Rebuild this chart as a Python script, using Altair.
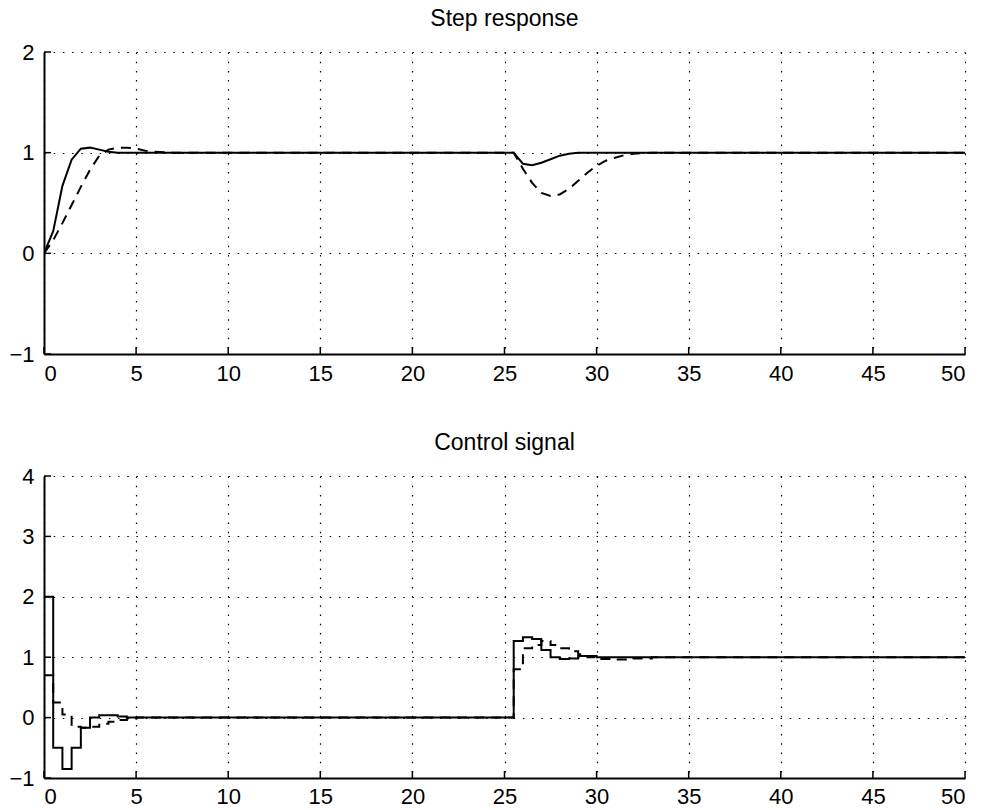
import altair as alt
import pandas as pd

# ---------------- data ----------------
# Step response (output), sampled points
t_y = [0, 0.5, 1, 1.5, 2, 2.5, 3, 3.5, 4, 4.5, 5, 5.5, 6, 7, 10, 20, 25, 25.5, 26, 26.5, 27, 27.5,
       28, 28.5, 29, 29.5, 30, 30.5, 31, 31.5, 32, 33, 35, 40, 50]
y_solid = [0, 0.22, 0.67, 0.93, 1.04, 1.05, 1.03, 1.01, 1.0, 1.0, 1.0, 1.0, 1.0, 1.0, 1.0, 1.0, 1.0, 1.0,
           0.89, 0.875, 0.9, 0.935, 0.97, 0.99, 1.0, 1.0, 1.0, 1.0, 1.0, 1.0, 1.0, 1.0, 1.0, 1.0, 1.0]
y_dashed = [0, 0.13, 0.3, 0.48, 0.66, 0.83, 0.97, 1.03, 1.05, 1.05, 1.04, 1.02, 1.01, 1.0, 1.0, 1.0, 1.0,
            1.0, 0.84, 0.7, 0.6, 0.57, 0.585, 0.64, 0.72, 0.8, 0.87, 0.92, 0.95, 0.975, 0.99, 1.0, 1.0, 1.0, 1.0]

# Control signal (piecewise constant, value holds from t until next t)
t_u_solid = [0, 0.5, 1, 1.5, 2, 2.5, 3, 4, 4.5, 25.5, 26, 26.5, 27, 27.5, 28, 28.5, 29, 30, 50]
u_solid = [2, -0.5, -0.85, -0.5, -0.17, 0.0, 0.04, 0.02, 0.0, 1.27, 1.33, 1.3, 1.12, 1.0, 0.97, 0.98,
           1.02, 1.0, 1.0]
t_u_dashed = [0, 0.5, 1, 1.5, 2, 2.5, 3, 3.5, 4, 4.5, 5, 25.5, 26, 26.5, 27, 27.5, 28, 28.5, 29, 29.5,
              30, 31, 32, 33, 50]
u_dashed = [0.7, 0.25, 0.05, -0.15, -0.17, -0.15, -0.1, -0.07, -0.04, -0.02, 0.0, 0.8, 1.15, 1.2, 1.27,
            1.2, 1.15, 1.1, 1.05, 1.0, 0.97, 0.96, 0.98, 1.0, 1.0]

x_ticks = [0, 5, 10, 15, 20, 25, 30, 35, 40, 45, 50]
y_ticks_top = [-1, 0, 1, 2]
y_ticks_bot = [-1, 0, 1, 2, 3, 4]

W = 921
FONT = "Liberation Sans"
TICK = 7

def panel(title, df_solid, df_dashed, interp, ydom, yticks, H, lpad):
    xs = alt.Scale(domain=[0, 50], nice=False, zero=False)
    ys = alt.Scale(domain=ydom, nice=False, zero=False)
    xax = alt.Axis(values=x_ticks, title=None, grid=True, tickSize=0, labelPadding=lpad,
                   format="d")
    yax = alt.Axis(values=yticks, title=None, grid=True, tickSize=0, labelPadding=10,
                   format="d")
    solid = alt.Chart(df_solid).mark_line(color="black", strokeWidth=2, interpolate=interp,
                                          clip=True).encode(
        x=alt.X("t:Q", scale=xs, axis=xax),
        y=alt.Y("v:Q", scale=ys, axis=yax),
    )
    dashed = alt.Chart(df_dashed).mark_line(color="black", strokeWidth=2, strokeDash=[10, 7],
                                            interpolate=interp, clip=True).encode(
        x=alt.X("t:Q", scale=xs),
        y=alt.Y("v:Q", scale=ys),
    )
    xt = alt.Chart(pd.DataFrame({"t": x_ticks})).mark_rule(color="black", strokeWidth=1.5).encode(
        x=alt.X("t:Q", scale=xs), y=alt.value(H), y2=alt.value(H - TICK))
    yt = alt.Chart(pd.DataFrame({"v": yticks})).mark_rule(color="black", strokeWidth=1.5).encode(
        y=alt.Y("v:Q", scale=ys), x=alt.value(0), x2=alt.value(TICK))
    return alt.layer(xt, yt, dashed, solid).properties(
        width=W, height=H,
        title=alt.TitleParams(title, fontSize=23, font=FONT, fontWeight="normal", color="black",
                              offset=10),
    )

top = panel("Step response",
            pd.DataFrame({"t": t_y, "v": y_solid}),
            pd.DataFrame({"t": t_y, "v": y_dashed}),
            "linear", [-1, 2], y_ticks_top, 302, 9)
bot = panel("Control signal",
            pd.DataFrame({"t": t_u_solid, "v": u_solid}),
            pd.DataFrame({"t": t_u_dashed, "v": u_dashed}),
            "step-after", [-1, 4], y_ticks_bot, 302, 8)

chart = alt.vconcat(top, bot, spacing=48).properties(
    padding={"left": 8, "top": 8, "right": 5, "bottom": 0},
    background="white",
).configure_view(stroke=None).configure_axis(
    gridColor="black", gridDash=[1.5, 7.7], gridOpacity=1, gridWidth=1.2,
    domainColor="black", domainWidth=2,
    labelFont=FONT, labelFontSize=22, labelColor="black",
)

chart.save("out.html", embed_options={"renderer": "svg", "actions": False})
